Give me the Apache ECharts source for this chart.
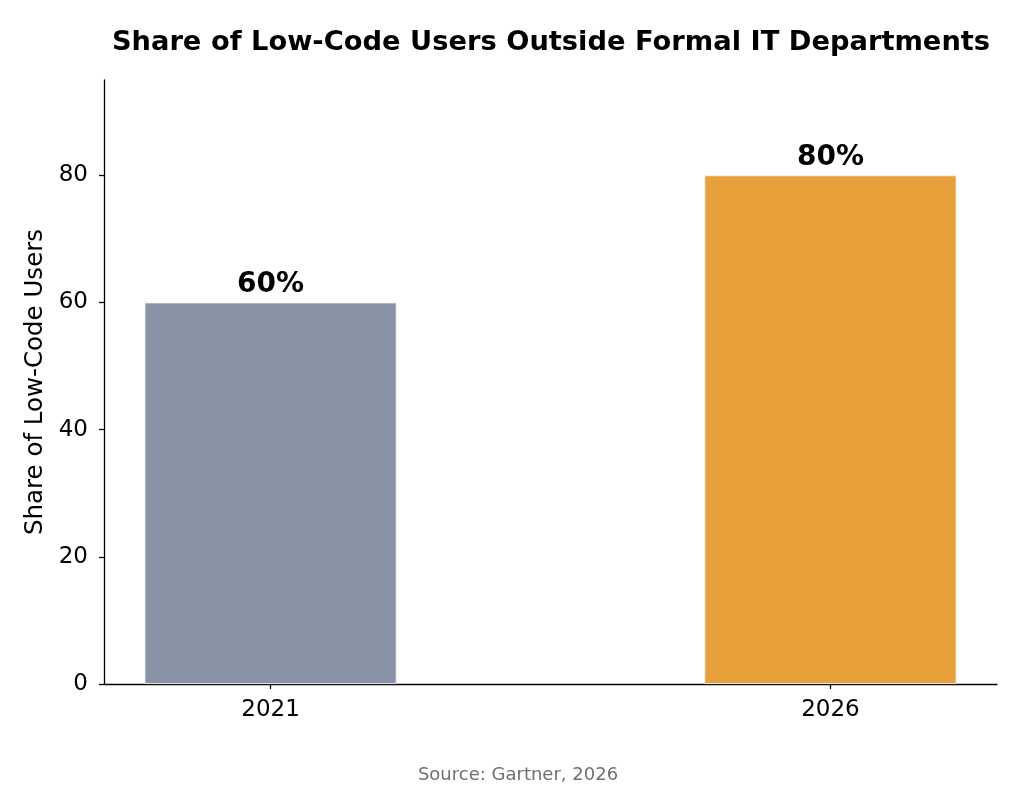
<!DOCTYPE html>
<html lang="en">
<head>
    <meta charset="UTF-8">
    <title>Share of Low-Code Users Outside Formal IT Departments</title>
    <script src="https://cdn.jsdelivr.net/npm/echarts@6/dist/echarts.min.js"></script>
    <style>
        html, body {
            margin: 0;
            padding: 0;
            background: #fff;
        }
        #chart {
            width: 1024px;
            height: 788px;
        }
    </style>
</head>
<body>
<div id="chart"></div>

<script>
    // data
    const years = ['2021', '2026'];
    const shares = [60, 80];
    const barColors = ['#8a93a6', '#e8a03b'];
    const yTicks = [0, 20, 40, 60, 80];

    const font = 'DejaVu Sans';
    const chart = echarts.init(document.getElementById('chart'), null, { renderer: 'canvas' });

    const option = {
        backgroundColor: '#ffffff',
        animation: false,
        title: [
            {
                text: 'Share of Low-Code Users Outside Formal IT Departments',
                left: 546,
                top: 24,
                textAlign: 'center',
                textStyle: { fontFamily: font, fontWeight: 'bold', fontSize: 27.3, color: '#000' }
            },
            {
                text: 'Source: Gartner, 2026',
                left: 513,
                top: 761,
                textAlign: 'center',
                textStyle: { fontFamily: font, fontWeight: 'normal', fontSize: 18, color: '#707070' }
            }
        ],
        grid: { left: 104, right: 27, top: 80, bottom: 104 },
        xAxis: {
            type: 'value',
            min: -0.2975,
            max: 1.2975,
            splitLine: { show: false },
            axisLine: { show: true, lineStyle: { color: '#000', width: 1.3 } },
            axisTick: { show: true, customValues: years.map((y, i) => i), length: 5, lineStyle: { color: '#000', width: 1.3 } },
            axisLabel: {
                customValues: years.map((y, i) => i),
                formatter: v => years[Math.round(v)],
                fontFamily: font, fontSize: 23, color: '#000', margin: 15
            }
        },
        yAxis: {
            type: 'value',
            min: 0,
            max: 95,
            name: 'Share of Low-Code Users',
            nameLocation: 'middle',
            nameGap: 55,
            nameTextStyle: { fontFamily: font, fontSize: 24.5, color: '#000' },
            splitLine: { show: false },
            axisLine: { show: true, onZero: false, lineStyle: { color: '#000', width: 1.3 } },
            axisTick: { show: true, customValues: yTicks, length: 5, lineStyle: { color: '#000', width: 1.3 } },
            axisLabel: {
                customValues: yTicks,
                fontFamily: font, fontSize: 23, color: '#000', margin: 16
            }
        },
        series: [
            {
                type: 'bar',
                barWidth: 252,
                data: shares.map((v, i) => ({
                    value: [i, v],
                    itemStyle: { color: barColors[i], borderColor: '#f4f4f4', borderWidth: 0.8 }
                })),
                label: {
                    show: true,
                    position: 'top',
                    distance: 4,
                    formatter: p => p.value[1] + '%',
                    fontFamily: font, fontWeight: 'bold', fontSize: 28, color: '#000'
                }
            }
        ]
    };
    chart.setOption(option);
</script>
</body>
</html>
